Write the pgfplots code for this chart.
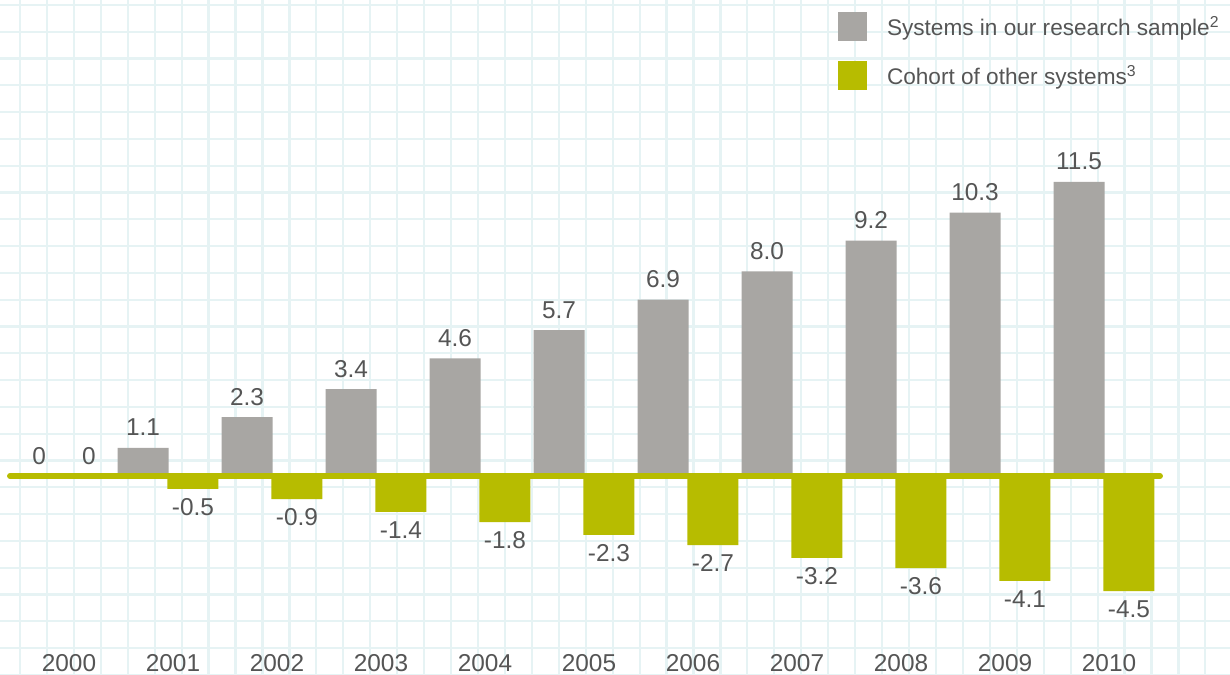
\documentclass[border=0pt]{standalone}
\usepackage{fontspec}
\setmainfont{Liberation Sans}
\usepackage{pgfplots}
\pgfplotsset{compat=1.18}
\definecolor{graybar}{RGB}{168,166,163}
\definecolor{greenbar}{RGB}{183,188,0}
\definecolor{textgray}{RGB}{85,85,85}
\definecolor{gridc}{RGB}{230,243,244}
\begin{document}
\begin{tikzpicture}
\fill[white] (0,0) rectangle (615pt,337pt);
\begin{scope}
\clip (0,0) rectangle (615pt,337pt);
\foreach \i in {0,...,45} \draw[gridc, line width=1.1pt] ({10pt+13.47pt*\i},0) -- ++(0,337pt);
\foreach \j in {0,...,25} \draw[gridc, line width=1.1pt] (0,{334.5pt-13.4pt*\j}) -- ++(615pt,0);
\end{scope}
\begin{axis}[
  at={(0,0)}, anchor=south west, scale only axis,
  width=615pt, height=337pt,
  xmin=-0.6154, xmax=11.2115, ymin=-7.743, ymax=18.615,
  hide axis, clip=false,
  legend cell align=left,
  legend style={at={(0.6813,0.9822)}, anchor=north west, draw=none, fill=none,
    inner sep=0pt, outer sep=0pt, row sep=10pt, column sep=10pt,
    nodes={inner sep=0pt}, font=\fontsize{11.3}{13}\selectfont, text=textgray},
]
\addplot[ybar, bar width=0.49, bar shift=-0.24, fill=graybar, draw=none,
  point meta=explicit symbolic, nodes near coords,
  every node near coord/.append style={anchor=base, xshift=-12.48pt, yshift=6pt, inner sep=0pt,
    font=\fontsize{12.2}{14}\selectfont, text=textgray},
  legend image code/.code={\fill[graybar] (0pt,-6.95pt) rectangle (14.5pt,7.55pt);}]
  coordinates {(0,0)[0] (1,1.1)[1.1] (2,2.3)[2.3] (3,3.4)[3.4] (4,4.6)[4.6] (5,5.7)[5.7]
    (6,6.9)[6.9] (7,8.0)[8.0] (8,9.2)[9.2] (9,10.3)[10.3] (10,11.5)[11.5]};
\addlegendentry{Systems in our research sample\textsuperscript{2}}
\addplot[ybar, bar width=0.49, bar shift=0.24, fill=greenbar, draw=none,
  point meta=explicit symbolic, nodes near coords,
  every node near coord/.append style={anchor=base, xshift=12.48pt, yshift=-13.25pt, inner sep=0pt,
    font=\fontsize{12.2}{14}\selectfont, text=textgray},
  legend image code/.code={\fill[greenbar] (0pt,-6.95pt) rectangle (14.5pt,7.55pt);}]
  coordinates {(1,-0.5)[-0.5] (2,-0.9)[-0.9] (3,-1.4)[-1.4] (4,-1.8)[-1.8] (5,-2.3)[-2.3]
    (6,-2.7)[-2.7] (7,-3.2)[-3.2] (8,-3.6)[-3.6] (9,-4.1)[-4.1] (10,-4.5)[-4.5]};
\addlegendentry{Cohort of other systems\textsuperscript{3}}
\addplot[ybar, bar width=0.49, bar shift=0.24, fill=none, draw=none, forget plot,
  point meta=explicit symbolic, nodes near coords,
  every node near coord/.append style={anchor=base, xshift=12.48pt, yshift=6pt, inner sep=0pt,
    font=\fontsize{12.2}{14}\selectfont, text=textgray}]
  coordinates {(0,0)[0]};
\addplot[greenbar, line width=3pt, line cap=round, forget plot] coordinates {(-0.519,0) (10.538,0)};
\foreach \k/\y in {0/2000,1/2001,2/2002,3/2003,4/2004,5/2005,6/2006,7/2007,8/2008,9/2009,10/2010}{
  \edef\tmp{\noexpand\node[anchor=base, inner sep=0pt, font=\noexpand\fontsize{12.2}{14}\noexpand\selectfont, text=textgray] at (axis cs:\k+0.048,-7.65) {\y};}
  \tmp
}
\end{axis}
\pgfresetboundingbox
\useasboundingbox (0,0) rectangle (615pt,337pt);
\end{tikzpicture}
\end{document}
